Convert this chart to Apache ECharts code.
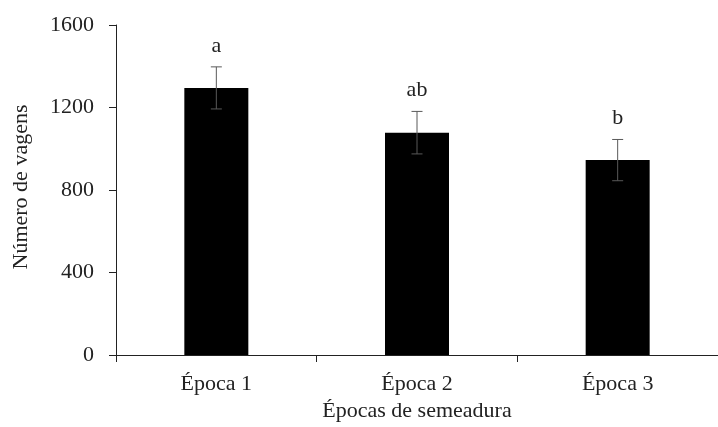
<!DOCTYPE html>
<html>
<head>
<meta charset="utf-8">
<script src="https://cdn.jsdelivr.net/npm/echarts@6/dist/echarts.min.js"></script>
<style>
    html, body { margin: 0; padding: 0; background: #fff; }
    #chart { width: 718px; height: 427px; }
</style>
</head>
<body>
<div id="chart"></div>
<script>
const categories = ["Época 1", "Época 2", "Época 3"];
const values = [1295, 1078, 945];
const errors = [102, 103, 100];
const letters = ["a", "ab", "b"];
const yTicks = [0, 400, 800, 1200, 1600];

const FONT = "Liberation Serif";
const FS = 22;

/* ===========================
   Error bars + letters
=========================== */

function renderError(params, api) {

    const i = api.value(0);
    const v = api.value(1);
    const e = api.value(2);

    const top = api.coord([i, v + e]);
    const bot = api.coord([i, v - e]);
    const cap = 5.5;

    const style = { stroke: "#595959", lineWidth: 1 };

    return {
        type: "group",
        children: [
            { type: "line", shape: { x1: top[0], y1: top[1], x2: bot[0], y2: bot[1] }, style: style },
            { type: "line", shape: { x1: top[0] - cap, y1: top[1], x2: top[0] + cap, y2: top[1] }, style: style },
            { type: "line", shape: { x1: bot[0] - cap, y1: bot[1], x2: bot[0] + cap, y2: bot[1] }, style: style },
            {
                type: "text",
                x: top[0],
                y: top[1] - 21,
                style: {
                    text: letters[i],
                    fill: "#222",
                    font: FS + "px '" + FONT + "'",
                    align: "center",
                    verticalAlign: "middle"
                }
            }
        ]
    };

}

const chart = echarts.init(document.getElementById("chart"));

chart.setOption({

    animation: false,

    grid: {
        left: 116,
        top: 25,
        width: 604,
        bottom: 72
    },

    xAxis: {
        type: "category",
        data: categories,
        name: "Épocas de semeadura",
        nameLocation: "middle",
        nameGap: 45,
        nameTextStyle: { fontFamily: FONT, fontSize: FS, color: "#222" },
        axisLine: { lineStyle: { color: "#222", width: 1 } },
        axisTick: { show: true, inside: false, length: 7, lineStyle: { color: "#222" } },
        axisLabel: { fontFamily: FONT, fontSize: FS, color: "#222", margin: 18 }
    },

    yAxis: {
        type: "value",
        min: yTicks[0],
        max: yTicks[yTicks.length - 1],
        interval: 400,
        name: "Número de vagens",
        nameLocation: "middle",
        nameGap: 84,
        nameTextStyle: { fontFamily: FONT, fontSize: FS, color: "#222", padding: [0, 0, 0, 6] },
        axisLine: { show: true, lineStyle: { color: "#222", width: 1 } },
        axisTick: { show: true, inside: false, length: 7, lineStyle: { color: "#222" } },
        axisLabel: {
            fontFamily: FONT,
            fontSize: FS,
            color: "#222",
            margin: 22,
            formatter: value => String(value)
        },
        splitLine: { show: false }
    },

    series: [
        {
            type: "bar",
            data: values,
            barWidth: 64,
            itemStyle: { color: "#000" }
        },
        {
            type: "custom",
            renderItem: renderError,
            data: values.map((v, i) => [i, v, errors[i]]),
            z: 10
        }
    ]

});
</script>
</body>
</html>
